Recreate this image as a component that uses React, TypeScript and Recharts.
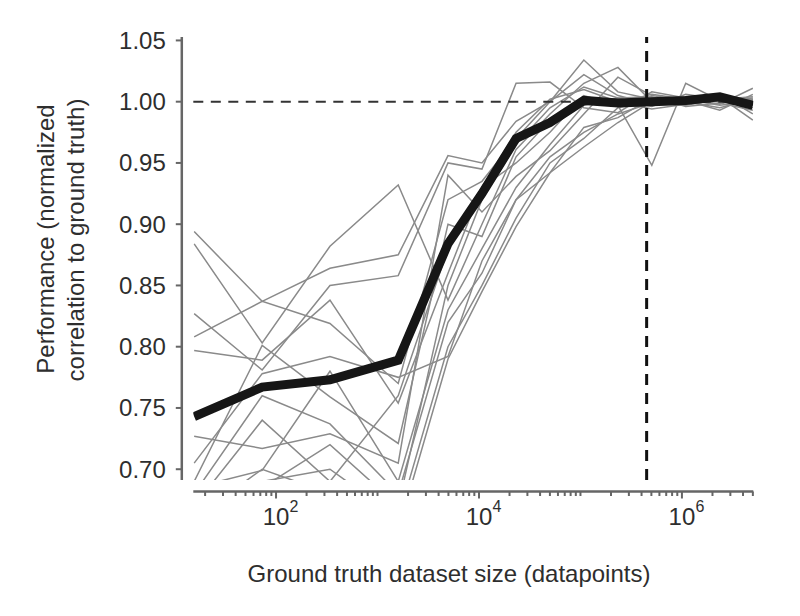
import React from "react";
import { LineChart, Line, XAxis, YAxis, ReferenceLine } from "recharts";

// Dataset sizes (x positions of the samples)
const sizes = [15.6, 73, 340, 1600, 4950, 10700, 23200, 50100, 108000, 234000, 505000, 1090000, 2360000, 5000000];

// Mean performance (thick black line)
const meanPerf = [0.743, 0.767, 0.773, 0.789, 0.884, 0.925, 0.970, 0.983, 1.001, 0.999, 1.000, 1.001, 1.004, 0.997];

// Individual runs (gray lines)
const run1 = [0.894, 0.837, 0.864, 0.875, 0.956, 0.950, 0.984, 1.000, 1.022, 1.005, 0.998, 1.004, 1.000, 1.003];
const run2 = [0.884, 0.803, 0.882, 0.932, 0.838, 0.900, 0.961, 0.990, 1.015, 1.028, 1.000, 0.997, 1.002, 0.995];
const run3 = [0.827, 0.781, 0.850, 0.858, 0.950, 0.945, 1.015, 1.016, 0.995, 0.991, 1.008, 1.003, 0.998, 1.011];
const run4 = [0.808, 0.837, 0.819, 0.770, 0.920, 0.935, 0.970, 1.000, 1.034, 1.008, 1.002, 0.999, 1.006, 0.990];
const run5 = [0.797, 0.789, 0.838, 0.754, 0.860, 0.930, 0.950, 0.975, 1.005, 0.997, 0.948, 1.015, 1.001, 0.998];
const run6 = [0.727, 0.717, 0.729, 0.705, 0.940, 0.910, 0.939, 0.960, 0.990, 1.020, 1.005, 1.001, 0.993, 1.006];
const run7 = [0.705, 0.778, 0.792, 0.775, 0.792, 0.870, 0.920, 0.942, 0.979, 0.987, 1.003, 1.000, 1.004, 0.985];
const run8 = [0.690, 0.801, 0.759, 0.721, 0.900, 0.890, 0.955, 0.985, 1.000, 0.999, 1.006, 1.002, 0.997, 1.000];
const run9 = [0.685, 0.699, 0.780, 0.690, 0.830, 0.880, 0.930, 0.965, 0.997, 1.003, 0.996, 1.006, 1.002, 1.004];
const run10 = [0.680, 0.760, 0.737, 0.680, 0.820, 0.860, 0.920, 0.955, 0.975, 0.990, 0.999, 1.000, 0.995, 1.002];
const run11 = [0.675, 0.690, 0.700, 0.660, 0.800, 0.850, 0.905, 0.950, 0.970, 0.995, 1.001, 1.003, 1.000, 0.997];
const run12 = [0.670, 0.740, 0.690, 0.760, 0.880, 0.930, 0.975, 1.002, 1.010, 1.000, 0.994, 0.998, 1.003, 1.001];
const run13 = [0.665, 0.685, 0.720, 0.670, 0.850, 0.920, 0.965, 0.995, 1.012, 1.003, 1.004, 0.996, 0.999, 0.993];
const run14 = [0.660, 0.700, 0.680, 0.650, 0.790, 0.845, 0.898, 0.942, 0.963, 0.983, 1.000, 1.004, 1.000, 1.002];

const runs = [run1, run2, run3, run4, run5, run6, run7, run8, run9, run10, run11, run12, run13, run14];

// Reference values
const perfectScore = 1.0;
const thresholdSize = 449000;

// Axis ticks
const yTicks = [0.7, 0.75, 0.8, 0.85, 0.9, 0.95, 1.0, 1.05];
const xTicks = [
  20, 30, 40, 50, 60, 70, 80, 90,
  100, 200, 300, 400, 500, 600, 700, 800, 900,
  1000, 2000, 3000, 4000, 5000, 6000, 7000, 8000, 9000,
  10000, 20000, 30000, 40000, 50000, 60000, 70000, 80000, 90000,
  100000, 200000, 300000, 400000, 500000, 600000, 700000, 800000, 900000,
  1000000, 2000000, 3000000, 4000000, 5000000,
];
const xLabelTicks = [100, 10000, 1000000];
const xLabelExponents = ["2", "4", "6"];

const xDomain = [15.3, 5.05e6];
const yDomain = [0.6912, 1.0528];

const data = sizes.map((s, i) => {
  const row: Record<string, number> = { size: s, mean: meanPerf[i] };
  runs.forEach((r, k) => {
    row["run" + (k + 1)] = r[i];
  });
  return row;
});

const FONT = "'Liberation Sans', Arial, Helvetica, sans-serif";
const TEXT = "#2e2e2e";
const AXIS = "#666666";
const AXIS_GAP = 11.5;

const XTick = (props: any) => {
  const { x, y, payload } = props;
  const idx = xLabelTicks.indexOf(payload.value);
  const major = idx >= 0;
  const y0 = y + AXIS_GAP;
  return (
    <g>
      <line x1={x} x2={x} y1={y0} y2={y0 + (major ? 7 : 4.5)} stroke={AXIS} strokeWidth={2} />
      {major && (
        <g fontFamily={FONT} fill={TEXT}>
          <text x={x} y={y + 45} textAnchor="middle" fontSize={24}>10</text>
          <text x={x + 13.5} y={y + 32} textAnchor="start" fontSize={16}>{xLabelExponents[idx]}</text>
        </g>
      )}
    </g>
  );
};

const YTick = (props: any) => {
  const { x, y, payload } = props;
  const x0 = x - AXIS_GAP;
  return (
    <g>
      <line x1={x0} x2={x0 - 6} y1={y} y2={y} stroke={AXIS} strokeWidth={2} />
      <text x={x0 - 16} y={y + 8.5} textAnchor="end" fontSize={24} fontFamily={FONT} fill={TEXT}>
        {Number(payload.value).toFixed(2)}
      </text>
    </g>
  );
};

const XTitle = () => (
  <text x={441} y={574} textAnchor="middle" fontSize={24} fontFamily={FONT} fill={TEXT}>
    Ground truth dataset size (datapoints)
  </text>
);

const YTitle = () => (
  <g fontSize={24} fontFamily={FONT} fill={TEXT}>
    <text transform="translate(46,231) rotate(-90)" textAnchor="middle">Performance (normalized</text>
    <text transform="translate(76,232) rotate(-90)" textAnchor="middle">correlation to ground truth)</text>
  </g>
);

export default function App() {
  return (
    <div style={{ width: 784, height: 600 }}>
      <LineChart
        width={784}
        height={600}
        data={data}
        margin={{ top: 29, right: 38.7, bottom: 98, left: 125.3 }}
      >
        <XAxis
          dataKey="size"
          type="number"
          scale="log"
          domain={xDomain}
          allowDataOverflow
          ticks={xTicks}
          interval={0}
          tick={<XTick />}
          tickLine={false}
          tickSize={0}
          tickMargin={0}
          height={30}
          axisLine={{ stroke: AXIS, strokeWidth: 2.5, transform: `translate(0,${AXIS_GAP})` }}
          label={{ content: () => <XTitle /> }}
        />
        <YAxis
          type="number"
          domain={yDomain}
          allowDataOverflow
          ticks={yTicks}
          interval={0}
          tick={<YTick />}
          tickLine={false}
          tickSize={0}
          tickMargin={0}
          width={60}
          axisLine={{ stroke: AXIS, strokeWidth: 2.5, transform: `translate(${-AXIS_GAP},0)` }}
          label={{ content: () => <YTitle /> }}
        />
        {runs.map((_, k) => (
          <Line
            key={k}
            dataKey={"run" + (k + 1)}
            stroke="#8a8a8a"
            strokeWidth={1.5}
            dot={false}
            activeDot={false}
            isAnimationActive={false}
          />
        ))}
        <ReferenceLine y={perfectScore} stroke="#333" strokeWidth={2} strokeDasharray="10 7.5" />
        <ReferenceLine x={thresholdSize} stroke="#111" strokeWidth={3} strokeDasharray="11 8" />
        <Line
          dataKey="mean"
          stroke="#161616"
          strokeWidth={9}
          dot={false}
          activeDot={false}
          isAnimationActive={false}
        />
      </LineChart>
    </div>
  );
}
